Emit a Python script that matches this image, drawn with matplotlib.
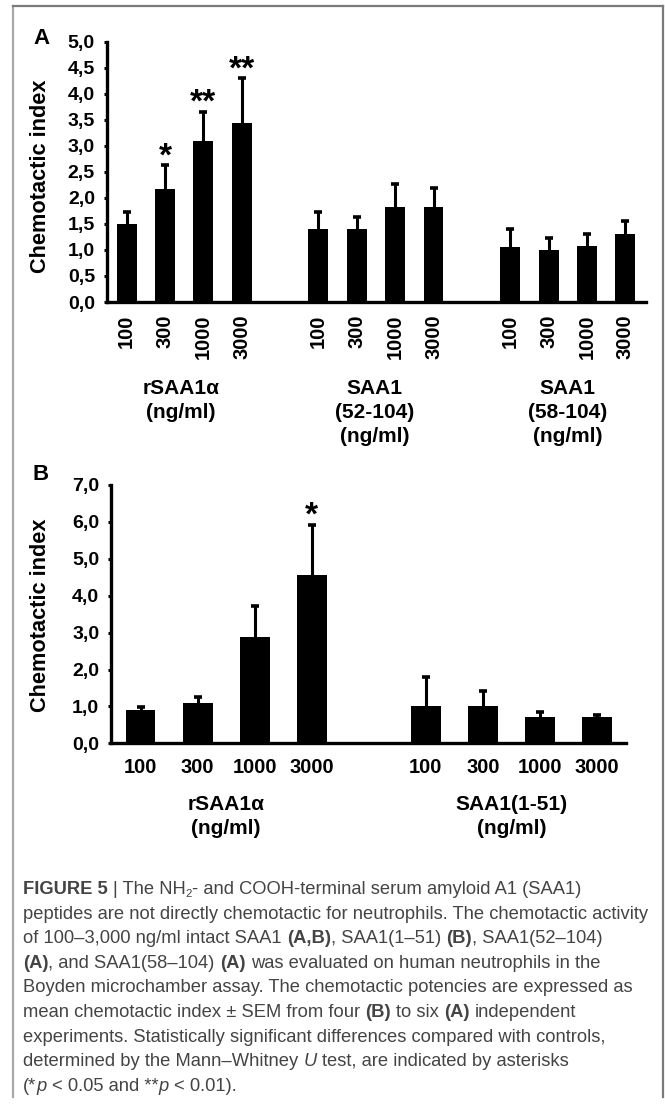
import matplotlib
matplotlib.use("Agg")
import matplotlib.pyplot as plt
import matplotlib.transforms as mtransforms
from matplotlib.lines import Line2D
from matplotlib.font_manager import FontProperties

plt.rcParams['font.family'] = ['Liberation Sans', 'DejaVu Sans']

LARG, ALT = 665, 1107

concentracoes = ["100", "300", "1000", "3000"]

# ===================== PAINEL A =====================
a_grupos = ["rSAA1α\n(ng/ml)", "SAA1\n(52-104)\n(ng/ml)", "SAA1\n(58-104)\n(ng/ml)"]
a_media = [1.49, 2.17, 3.10, 3.44, 1.40, 1.40, 1.83, 1.83, 1.06, 0.99, 1.08, 1.30]
a_sem   = [0.23, 0.46, 0.55, 0.86, 0.32, 0.23, 0.44, 0.36, 0.34, 0.24, 0.22, 0.26]
a_sig   = ["", "*", "**", "**", "", "", "", "", "", "", "", ""]
a_yticks = [0.0, 0.5, 1.0, 1.5, 2.0, 2.5, 3.0, 3.5, 4.0, 4.5, 5.0]

# ===================== PAINEL B =====================
b_grupos = ["rSAA1α\n(ng/ml)", "SAA1(1-51)\n(ng/ml)"]
b_media = [0.90, 1.10, 2.89, 4.57, 1.00, 1.00, 0.72, 0.72]
b_sem   = [0.08, 0.15, 0.83, 1.35, 0.80, 0.42, 0.14, 0.05]
b_sig   = ["", "", "", "*", "", "", "", ""]
b_yticks = [0.0, 1.0, 2.0, 3.0, 4.0, 5.0, 6.0, 7.0]

# ===================== LEGENDA =====================
legenda = [
    [("FIGURE 5", "b"), (" | The NH", ""), ("2", "sub"), ("- and COOH-terminal serum amyloid A1 (SAA1)", "")],
    [("peptides are not directly chemotactic for neutrophils. The chemotactic activity", "")],
    [("of 100–3,000 ng/ml intact SAA1 ", ""), ("(A,B)", "b"), (", SAA1(1–51) ", ""), ("(B)", "b"),
     (", SAA1(52–104)", "")],
    [("(A)", "b"), (", and SAA1(58–104) ", ""), ("(A)", "b"), (" was evaluated on human neutrophils in the", "")],
    [("Boyden microchamber assay. The chemotactic potencies are expressed as", "")],
    [("mean chemotactic index ± SEM from four ", ""), ("(B)", "b"), (" to six ", ""), ("(A)", "b"),
     (" independent", "")],
    [("experiments. Statistically significant differences compared with controls,", "")],
    [("determined by the Mann–Whitney ", ""), ("U", "i"), (" test, are indicated by asterisks", "")],
    [("(*", ""), ("p", "i"), (" < 0.05 and **", ""), ("p", "i"), (" < 0.01).", "")],
]

fig = plt.figure(figsize=(LARG / 100, ALT / 100), dpi=100)
fig.patch.set_facecolor("white")


def eixo_px(x0, y0, x1, y1):
    return fig.add_axes([x0 / LARG, 1 - y1 / ALT, (x1 - x0) / LARG, (y1 - y0) / ALT])


def painel(ax, medias, sems, sig, grupos, yticks, xlim, rot, pad_x, pos_grupos, topo_grupos):
    ngr = len(grupos)
    xs = [g * 5 + i for g in range(ngr) for i in range(4)]
    zeros = [0] * len(medias)
    barras = ax.bar(xs, medias, width=0.52, color="black",
                    yerr=[zeros, sems],
                    error_kw=dict(ecolor="black", elinewidth=2.2, capsize=2.6, capthick=2.6))
    # só a barra de erro superior: esconde a "tampa" que fica no topo da coluna
    _, tampas, _ = barras.errorbar.lines
    for tampa in tampas:
        if list(tampa.get_ydata()) == list(medias):
            tampa.set_visible(False)
    for x, m, s, t in zip(xs, medias, sems, sig):
        if t:
            ax.annotate(t, (x, m + s), xytext=(0, 0), textcoords="offset points",
                        ha="center", va="baseline", fontsize=24, fontweight="bold")
    ax.set_xlim(*xlim)
    ax.set_ylim(yticks[0], yticks[-1])
    ax.set_yticks(yticks, [f"{v:.1f}".replace(".", ",") for v in yticks],
                  fontsize=14, fontweight="bold")
    ax.set_xticks(xs, concentracoes * ngr, rotation=rot, fontsize=14.5, fontweight="bold")
    ax.tick_params(axis="x", length=0, pad=pad_x)
    ax.tick_params(axis="y", length=2.5, width=2.2, pad=6)
    for lado in ["top", "right"]:
        ax.spines[lado].set_visible(False)
    for lado in ["left", "bottom"]:
        ax.spines[lado].set_linewidth(2.4)
    trans = mtransforms.blended_transform_factory(ax.transData, fig.transFigure)
    for xg, txt in zip(pos_grupos, grupos):
        ax.text(xg, 1 - topo_grupos / ALT, txt, transform=trans, ha="center", va="top",
                multialignment="center", fontsize=15, fontweight="bold", linespacing=1.35)


# ----- Painel A -----
ax_a = eixo_px(106.7, 41.7, 646, 302)
painel(ax_a, a_media, a_sem, a_sig, a_grupos, a_yticks, (-0.52, 13.54), 90, 9.0,
       [1.42, 6.47, 11.5], 379)

# ----- Painel B -----
ax_b = eixo_px(111, 485, 626, 743.3)
painel(ax_b, b_media, b_sem, b_sig, b_grupos, b_yticks, (-0.52, 8.51), 0, 10.5,
       [1.5, 6.5], 795)

# ----- Rótulos -----
fig.text(41 / LARG, 1 - 176.5 / ALT, "Chemotactic index", rotation=90, ha="center", va="center",
         fontsize=15.7, fontweight="bold")
fig.text(41 / LARG, 1 - 615 / ALT, "Chemotactic index", rotation=90, ha="center", va="center",
         fontsize=15.7, fontweight="bold")
fig.text(33 / LARG, 1 - 44.5 / ALT, "A", ha="left", va="baseline", fontsize=16, fontweight="bold")
fig.text(33 / LARG, 1 - 480.5 / ALT, "B", ha="left", va="baseline", fontsize=16, fontweight="bold")

# ----- Moldura -----
fig.add_artist(Line2D([13 / LARG, 13 / LARG], [1 - 6 / ALT, 1 - 1097 / ALT],
                      transform=fig.transFigure, color="#a8a8a8", lw=1.6))
fig.add_artist(Line2D([13 / LARG, 662.7 / LARG], [1 - 6 / ALT, 1 - 6 / ALT],
                      transform=fig.transFigure, color="#7a7a7a", lw=1.6))
fig.add_artist(Line2D([662.7 / LARG, 662.7 / LARG], [1 - 6 / ALT, 1 - 1097 / ALT],
                      transform=fig.transFigure, color="#7a7a7a", lw=1.6))

# ----- Legenda (texto rico, segmento a segmento) -----
renderer = fig.canvas.get_renderer()
cor_leg = "#444444"


def avanco(s, prop):
    w1, _, _ = renderer.get_text_width_height_descent("x" + s + "x", prop, ismath=False)
    w0, _, _ = renderer.get_text_width_height_descent("xx", prop, ismath=False)
    return w1 - w0


def prop_de(estilo, tam):
    fam = ["Liberation Sans", "DejaVu Sans"]
    if estilo == "b":
        return FontProperties(family=fam, size=tam, weight="bold")
    if estilo == "i":
        return FontProperties(family=fam, size=tam, style="italic")
    if estilo == "sub":
        return FontProperties(family=fam, size=tam * 0.62)
    return FontProperties(family=fam, size=tam)


# ajusta o tamanho para que a linha 2 ocupe a largura observada
larg_ref = avanco(legenda[1][0][0], prop_de("", 10))
tam_leg = 10 * (651 - 23) / larg_ref

y0_leg, passo_leg = 894, 24.6
for n, linha in enumerate(legenda):
    x = 23
    y = y0_leg + n * passo_leg
    for texto, estilo in linha:
        prop = prop_de(estilo, tam_leg)
        dy = 3 if estilo == "sub" else 0
        corpo = texto.lstrip(" ")
        x_ini = x + avanco(texto[:len(texto) - len(corpo)], prop)
        fig.text(x_ini / LARG, 1 - (y + dy) / ALT, corpo, ha="left", va="baseline",
                 fontproperties=prop, color=cor_leg)
        x += avanco(texto, prop)

fig.savefig("out.png", dpi=100)
